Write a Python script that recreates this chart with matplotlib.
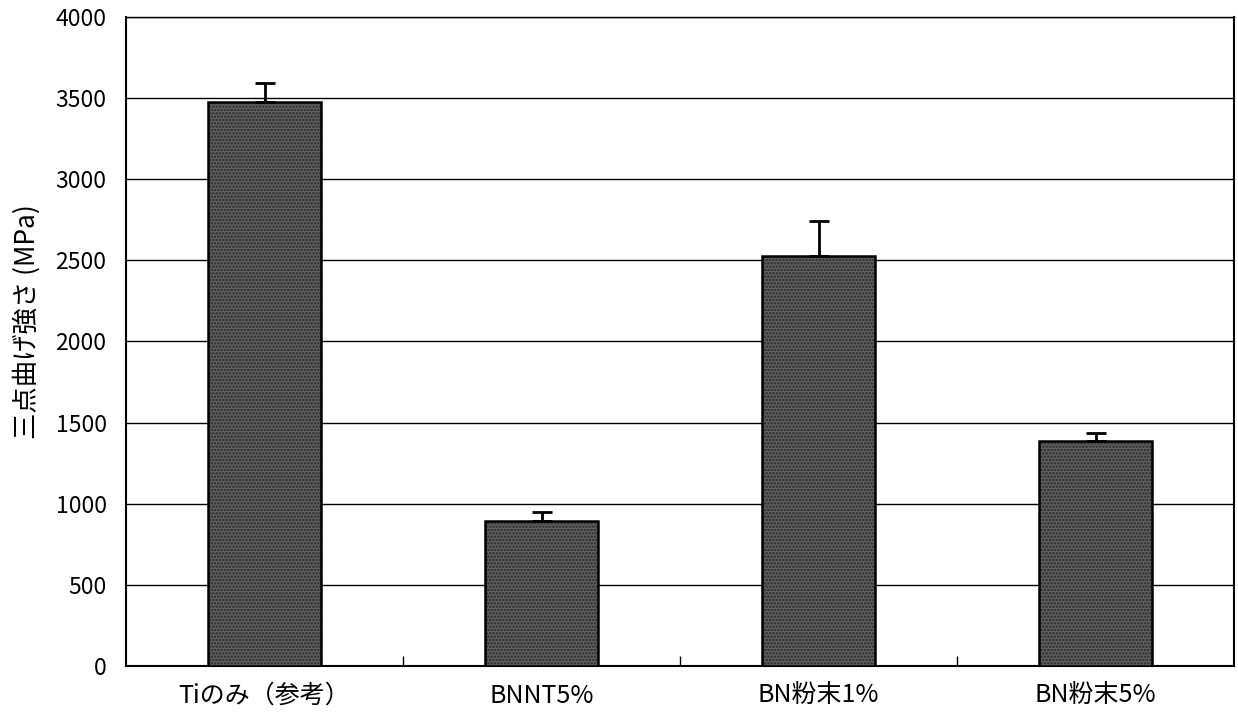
import numpy as np
import matplotlib
matplotlib.use('Agg')
from matplotlib import pyplot as plt

plt.rcParams['font.family'] = ['Noto Sans CJK JP', 'DejaVu Sans']
plt.rcParams['hatch.linewidth'] = 1.2

labels = ['Tiのみ（参考）', 'BNNT5%', 'BN粉末1%', 'BN粉末5%']
strength = [3478, 893, 2525, 1388]
err_up = [118, 57, 215, 48]

fig = plt.figure(figsize=(12.38, 7.28), dpi=100)
ax = fig.add_axes([126/1238, 1-666/728, (1234-126)/1238, (666-17)/728])

x = np.arange(len(labels))
# stippled fill, then the outline on top
ax.bar(x, strength, width=0.405, color='#606060', edgecolor='#2a2a2a', hatch='.....',
       linewidth=0, zorder=3)
ax.bar(x, strength, width=0.405, fill=False, edgecolor='black', linewidth=1.8, zorder=3)
ax.errorbar(x, strength, yerr=[np.zeros(len(err_up)), err_up], fmt='none',
            ecolor='black', elinewidth=2, capsize=7, capthick=2, zorder=4)

ax.set_xlim(-0.5, len(labels)-0.5)
ax.set_ylim(0, 4000)
ax.set_yticks(np.arange(0, 4001, 500))
ax.yaxis.grid(True, color='black', linewidth=1)
ax.set_axisbelow(True)
ax.tick_params(axis='y', length=0, pad=14, labelsize=16.5)

ax.set_xticks(x)
ax.set_xticklabels(labels, fontsize=18)
ax.tick_params(axis='x', which='major', length=0, pad=12)
ax.set_xticks(np.arange(0.5, len(labels)-1, 1), minor=True)
ax.tick_params(axis='x', which='minor', direction='in', length=7, width=1)

for s in ax.spines.values():
    s.set_linewidth(1.5)
ax.spines['top'].set_linewidth(1)

ax.set_ylabel('三点曲げ強さ (MPa)', fontsize=19)
ax.yaxis.set_label_coords(-0.077, 0.53)

plt.savefig('out.png', dpi=100)
